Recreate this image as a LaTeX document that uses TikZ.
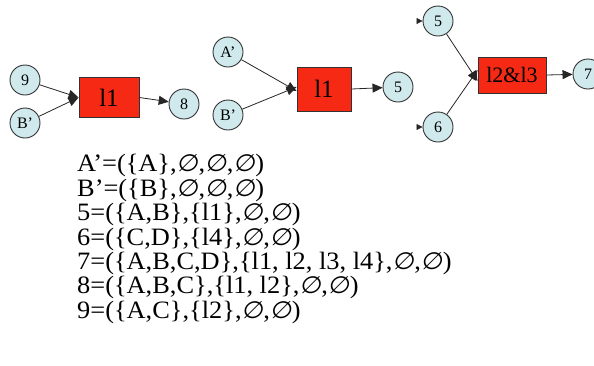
\documentclass[tikz,border=0pt]{standalone}
\usepackage{fontspec}
\setmainfont{Liberation Serif}
\newfontfamily\eqfont[FakeStretch=1.055]{Liberation Serif}
\newfontfamily\esfont[FakeSlant=0.15,Scale=0.95,FakeStretch=1.055]{DejaVu Sans}
\newcommand{\es}{{\esfont ∅}}
\usetikzlibrary{arrows.meta}
\definecolor{cfill}{RGB}{207,233,236}
\definecolor{bfill}{RGB}{246,42,20}
\definecolor{cline}{RGB}{50,50,50}
\tikzset{
  place/.style={circle,draw=cline,line width=0.9pt,fill=cfill,minimum size=30pt,inner sep=0pt,font=\fontsize{16}{16}\selectfont},
  trans/.style={rectangle,draw=cline,line width=0.9pt,fill=bfill,inner sep=0pt,font=\fontsize{25}{25}\selectfont},
  arc/.style={line width=0.8pt,draw=black!85,-{Triangle[length=10pt,width=9pt]}},
  stub/.style={line width=0.8pt,draw=black!85,-{Triangle[length=6pt,width=6pt]}},
  eqline/.style={anchor=base west,inner sep=0pt,font=\eqfont\fontsize{25}{25}\selectfont}
}
\begin{document}
\begin{tikzpicture}[x=1pt,y=-1pt]
\useasboundingbox (0,0) rectangle (594,365);
\clip (0,0) rectangle (594,365);
% graph 1
\node[place] (p9) at (25,80) {9};
\node[place] (pb1) at (25,123) {B’};
\node[trans,minimum width=60pt,minimum height=40pt] (t1) at (109,97.5) {l1};
\node[place] (p8) at (184,104) {8};
\draw[arc] (p9) -- (t1.west);
\draw[arc] (pb1) -- (t1.west);
\draw[arc] (t1.east) -- (p8);
% graph 2
\node[place] (pa) at (228,52) {A’};
\node[place] (pb2) at (228,115) {B’};
\node[trans,minimum width=54pt,minimum height=44pt] (t2) at (324,89) {l1};
\node[place] (p5a) at (398,87) {5};
\draw[arc] (pa) -- ([yshift=-2pt]t2.west);
\draw[arc] (pb2) -- ([yshift=2pt]t2.west);
\draw[arc] (t2.east) -- (p5a);
% graph 3
\node[place] (p5b) at (438,21) {5};
\node[place] (p6) at (438,127) {6};
\node[trans,minimum width=68pt,minimum height=36pt,font=\fontsize{22}{22}\selectfont] (t3) at (512,75) {l2\&l3};
\node[place] (p7) at (588,74) {7};
\coordinate (s5) at (418,21);
\coordinate (s6) at (418,127);
\draw[stub] (s5) -- (p5b);
\draw[stub] (s6) -- (p6);
\draw[arc] (p5b) -- ([yshift=-6pt]t3.west);
\draw[arc] (p6) -- ([yshift=5pt]t3.west);
\draw[arc] (t3.east) -- (p7);
% equations
\node[eqline] (e1) at (77,171.5) {A’=(\{A\},\es,\es,\es)};
\node[eqline] (e2) at (77,196) {B’=(\{B\},\es,\es,\es)};
\node[eqline] (e3) at (77,220.5) {5=(\{A,B\},\{l1\},\es,\es)};
\node[eqline] (e4) at (77,245) {6=(\{C,D\},\{l4\},\es,\es)};
\node[eqline] (e5) at (77,269) {7=(\{A,B,C,D\},\{l1, l2, l3, l4\},\es,\es)};
\node[eqline] (e6) at (77,293.5) {8=(\{A,B,C\},\{l1, l2\},\es,\es)};
\node[eqline] (e7) at (77,318) {9=(\{A,C\},\{l2\},\es,\es)};
\end{tikzpicture}
\end{document}
